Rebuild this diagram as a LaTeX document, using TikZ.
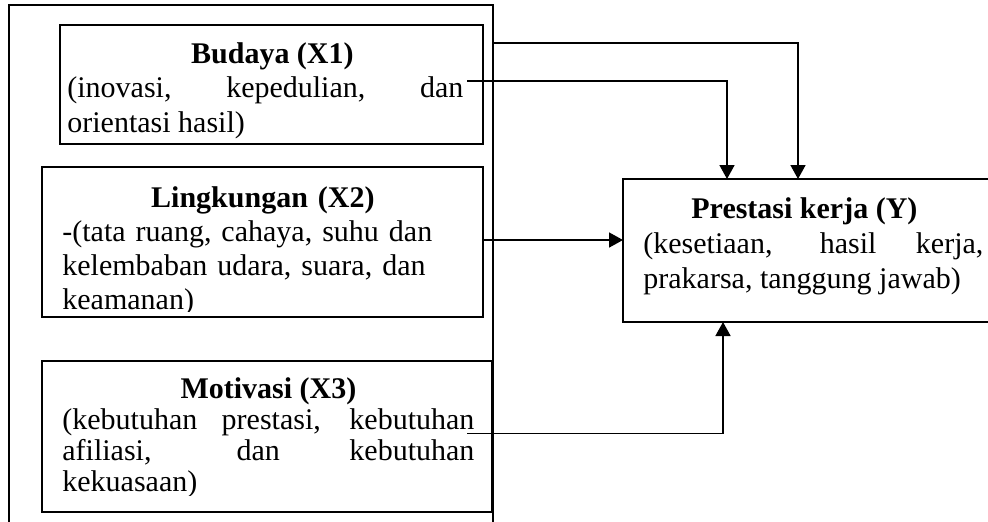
\documentclass[tikz,border=0pt]{standalone}
\usepackage{fontspec}
\setmainfont{Liberation Serif}
\usetikzlibrary{arrows.meta}

\begin{document}
\begin{tikzpicture}[
  x=0.5pt, y=-0.5pt,
  box/.style={
    draw, line width=0.8pt, inner sep=0pt, outer sep=0pt, anchor=north west
  },
  txt/.style={
    inner sep=0pt, anchor=base west, font=\fontsize{15pt}{#1}\selectfont
  },
  conn/.style={
    -{Triangle[length=7pt, width=7.5pt]}, line width=0.8pt
  }
]
\useasboundingbox (0,0) rectangle (988,521);
\clip (0,0) rectangle (988,521);

% Outer frame round X1, X2, X3
\node[box, minimum width=242pt, minimum height=270pt] (frame) at (9,5) {};

% Budaya (X1)
\node[box, minimum width=211.5pt, minimum height=59.5pt] (budaya) at (60,25) {};
\node[txt=17.25pt, text width=198pt, align=justify] (budayatxt) at (67,63) {
  {\centering\hspace*{7pt}\textbf{Budaya (X1)}\par}
  (inovasi, kepedulian, dan\linebreak orientasi hasil)
};

% Lingkungan (X2)
\node[box, minimum width=220.5pt, minimum height=75pt] (lingkungan) at (42,167) {};
\begin{scope}
  \clip (lingkungan.north west) rectangle ([yshift=3pt]lingkungan.south east);
  \node[txt=17pt, text width=200.5pt, align=left] (lingkungantxt) at (62,207) {
    {\centering\textbf{Lingkungan\ (X2)}\par}
    -(tata ruang, cahaya, suhu dan\\
    kelembaban udara, suara, dan\\
    keamanan)
  };
\end{scope}

% Motivasi (X3)
\node[box, minimum width=225pt, minimum height=75.5pt] (motivasi) at (42,361) {};
\begin{scope}
  \clip (motivasi.north west) rectangle ([yshift=8.5pt]motivasi.south east);
  \node[txt=15.5pt, text width=206pt, align=justify] (motivasitxt) at (62,398) {
    {\centering\textbf{Motivasi (X3)}\par}
    (kebutuhan prestasi, kebutuhan\linebreak
    afiliasi, dan kebutuhan\linebreak
    kekuasaan)
  };
\end{scope}

% Prestasi kerja (Y)
\node[box, minimum width=190pt, minimum height=71.5pt] (kinerja) at (623,179) {};
\node[txt=17.5pt, text width=170pt, align=justify] (kinerjatxt) at (643,218) {
  {\centering\textbf{Prestasi kerja (Y)}\hspace*{9pt}\par}
  (kesetiaan, hasil kerja,\linebreak prakarsa, tanggung jawab)
};

% Connections
\coordinate (topline) at (0,43);
\coordinate (x2out) at ([yshift=1pt]lingkungan.east);
\draw[conn] (frame.east |- topline) -| ([xshift=87.5pt]kinerja.north west);
\draw[conn] ([xshift=-8pt, yshift=1.75pt]budaya.east) -| ([xshift=52pt]kinerja.north west);
\draw[conn] (x2out) -- (x2out -| kinerja.west);
\draw[conn] ([xshift=-12.5pt, yshift=1.5pt]motivasi.east) -| ([xshift=50pt]kinerja.south west);

\end{tikzpicture}
\end{document}
